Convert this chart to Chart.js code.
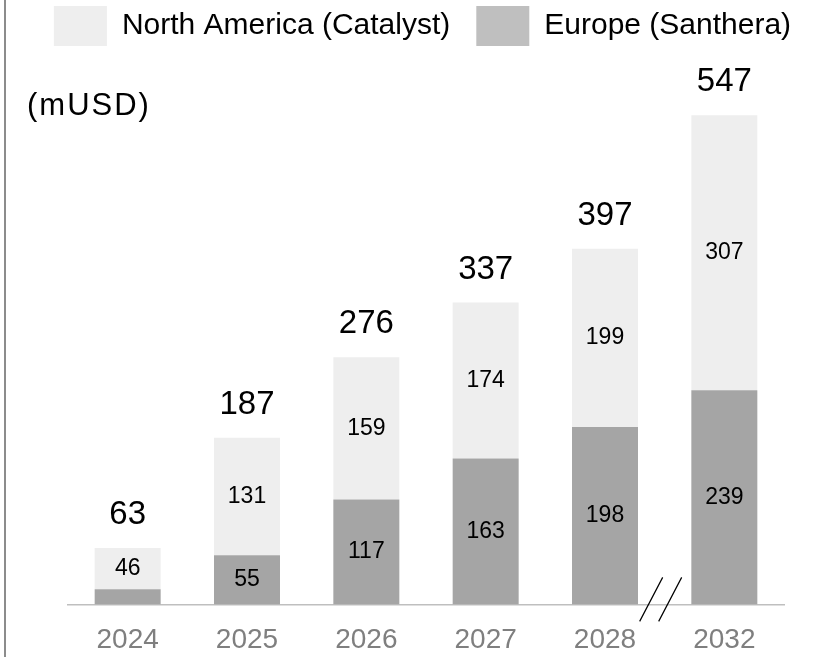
<!DOCTYPE html>
<html>
<head>
<meta charset="utf-8">
<script src="https://cdn.jsdelivr.net/npm/chart.js@4"></script>
<style>
  body { margin: 0; background: #fff; }
</style>
</head>
<body>
<canvas id="myChart" width="825" height="657"></canvas>
<script>
// values
var years = ["2024", "2025", "2026", "2027", "2028", "2032"];
var europe = [17, 55, 117, 163, 198, 239];
var northAmerica = [46, 131, 159, 174, 199, 307];
var totals = [63, 187, 276, 337, 397, 547];
var unitLabel = "(mUSD)";

var FONT = "'Liberation Sans', Arial, sans-serif";

// keep the legend band a fixed height so the plot area starts where it should
var legendHeight = {
  id: "legendHeight",
  beforeLayout: function(chart) {
    var legend = chart.legend;
    if (legend && !legend._patched) {
      var fit = legend.fit;
      legend.fit = function() {
        fit.call(this);
        this.height = 87;
      };
      legend._patched = true;
    }
  }
};

// numbers inside the bars and totals above them, plus unit, frame and axis break
var barText = {
  id: "barText",
  afterDatasetsDraw: function(chart) {
    var ctx = chart.ctx;
    ctx.save();
    ctx.fillStyle = "#000";
    ctx.textAlign = "center";
    ctx.textBaseline = "middle";
    ctx.font = "23px " + FONT;
    chart.data.datasets.forEach(function(ds, i) {
      var meta = chart.getDatasetMeta(i);
      meta.data.forEach(function(bar, j) {
        if (Math.abs(bar.base - bar.y) < 25) return;
        ctx.fillText(ds.data[j], bar.x, (bar.y + bar.base) / 2);
      });
    });

    // totals
    var top = chart.getDatasetMeta(1);
    ctx.font = "33px " + FONT;
    ctx.textBaseline = "alphabetic";
    top.data.forEach(function(bar, j) {
      ctx.fillText(totals[j], bar.x, bar.y - 24);
    });

    // unit
    ctx.textAlign = "left";
    ctx.textBaseline = "middle";
    ctx.font = "31px " + FONT;
    ctx.letterSpacing = "2px";
    ctx.fillText(unitLabel, 27, 106);
    ctx.letterSpacing = "0px";

    // axis break between 2028 and 2032
    var x = chart.scales.x;
    var y0 = chart.scales.y.getPixelForValue(0);
    var mid = (x.getPixelForValue(4) + x.getPixelForValue(5)) / 2;
    ctx.strokeStyle = "#000";
    ctx.lineWidth = 1.2;
    ctx.beginPath();
    ctx.moveTo(mid - 25, y0 + 17);
    ctx.lineTo(mid - 2, y0 - 27);
    ctx.moveTo(mid - 6, y0 + 17);
    ctx.lineTo(mid + 17, y0 - 27);
    ctx.stroke();

    // left frame line
    ctx.strokeStyle = "#8c8c8c";
    ctx.lineWidth = 2;
    ctx.beginPath();
    ctx.moveTo(5, 0);
    ctx.lineTo(5, chart.height);
    ctx.stroke();
    ctx.restore();
  }
};

var ctx = document.getElementById("myChart").getContext("2d");
var chart = new Chart(ctx, {
  type: "bar",
  data: {
    labels: years,
    datasets: [
      {
        label: "Europe (Santhera)",
        data: europe,
        backgroundColor: "#a5a5a5",
        legendColor: "#bfbfbf"
      },
      {
        label: "North America (Catalyst)",
        data: northAmerica,
        backgroundColor: "#eeeeee",
        legendColor: "#eeeeee"
      }
    ]
  },
  options: {
    responsive: false,
    animation: false,
    categoryPercentage: 1,
    barPercentage: 0.553,
    layout: {
      padding: { top: -20, left: 20, right: 0, bottom: -19 }
    },
    scales: {
      x: {
        stacked: true,
        grid: { display: true, drawOnChartArea: false, drawTicks: false },
        border: { display: true, color: "#bfbfbf", width: 1.5 },
        ticks: {
          color: "#7f7f7f",
          padding: 19,
          font: { family: FONT, size: 28 }
        }
      },
      y: {
        stacked: true,
        min: 0,
        max: 600,
        grid: { display: false },
        border: { display: false },
        ticks: { display: false },
        afterFit: function(scale) { scale.width = 48; }
      },
      yRight: {
        type: "linear",
        position: "right",
        grid: { display: false },
        border: { display: false },
        ticks: { display: false },
        afterFit: function(scale) { scale.width = 41; }
      }
    },
    plugins: {
      tooltip: { enabled: false },
      legend: {
        position: "top",
        reverse: true,
        labels: {
          boxWidth: 53,
          boxHeight: 40,
          padding: 26,
          color: "#000",
          font: { family: FONT, size: 30 },
          generateLabels: function(chart) {
            var items = Chart.defaults.plugins.legend.labels.generateLabels(chart);
            items.forEach(function(it) {
              var c = chart.data.datasets[it.datasetIndex].legendColor;
              it.fillStyle = c;
              it.strokeStyle = c;
              it.lineWidth = 0;
            });
            return items;
          }
        }
      }
    }
  },
  plugins: [legendHeight, barText]
});
</script>
</body>
</html>
